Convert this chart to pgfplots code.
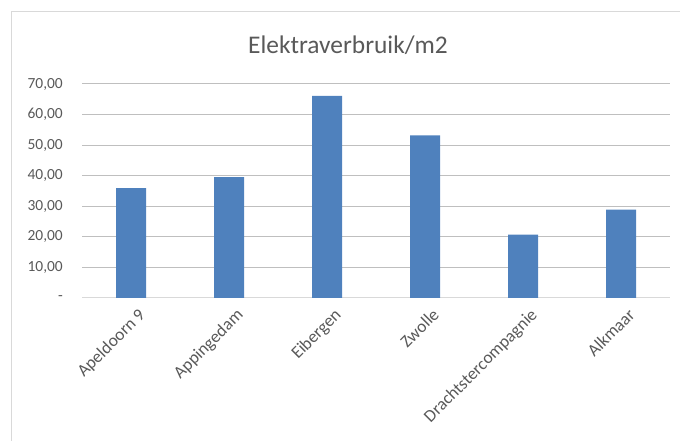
\documentclass[border=0pt]{standalone}
\usepackage{pgfplots}
\pgfplotsset{compat=1.18}
\usepackage{fontspec}
\setmainfont{Carlito}
\definecolor{barblue}{HTML}{4F81BD}
\definecolor{txt}{HTML}{595959}
\definecolor{grid}{HTML}{D9D9D9}
\begin{document}
\begin{tikzpicture}[x=1bp,y=1bp]
\path[use as bounding box] (0,0) rectangle (680,441);
\draw[grid, line width=1bp] (11.5,0) -- (11.5,429.5) -- (680,429.5);
\node[txt, font=\fontsize{25.5}{29}\selectfont] at (348,396) {Elektraverbruik/m2};
\begin{axis}[
  at={(82bp,143bp)}, anchor=south west,
  scale only axis, width=588bp, height=214bp,
  xmin=-0.5, xmax=5.5, ymin=0, ymax=70,
  ytick={0,10,...,70},
  yticklabels={{-\hspace{7bp}},{10,00},{20,00},{30,00},{40,00},{50,00},{60,00},{70,00}},
  xtick={0,...,5},
  xticklabels={Apeldoorn 9,Appingedam,Eibergen,Zwolle,Drachtstercompagnie,Alkmaar},
  xticklabel style={rotate=45, anchor=north east, inner sep=2bp, xshift=0bp, yshift=-9bp, font=\fontsize{17.5}{20}\selectfont},
  yticklabel style={inner sep=0pt, xshift=-19bp, font=\fontsize{15.5}{18}\selectfont},
  tick label style={txt},
  /pgf/number format/assume math mode=true,
  major tick length=0pt,
  ymajorgrids, xmajorgrids=false, grid style={grid, line width=1bp},
  axis lines*=left,
  y axis line style={draw=none},
  x axis line style={grid, line width=1bp, -},
  ybar, bar width=30bp,
]
\addplot[fill=barblue, draw=none] coordinates {(0,35.9) (1,39.5) (2,66.1) (3,53.2) (4,20.7) (5,28.9)};
\end{axis}
\end{tikzpicture}
\end{document}
